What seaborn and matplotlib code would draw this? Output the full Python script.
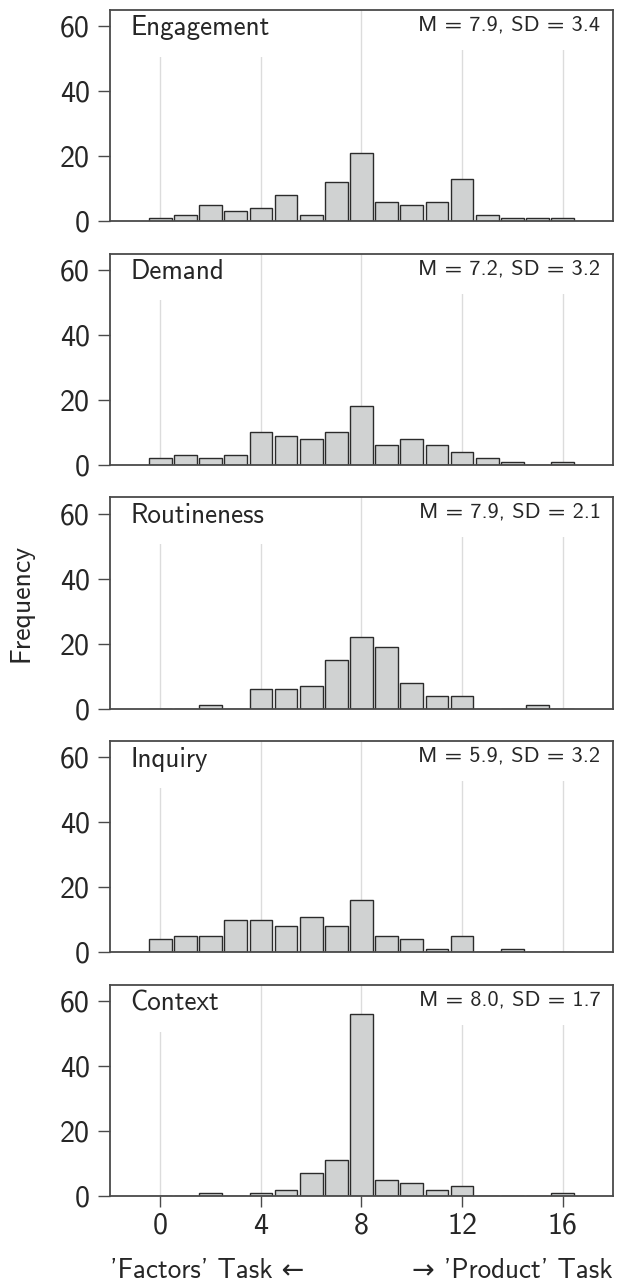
import numpy as np
import pandas as pd
import matplotlib
matplotlib.use('Agg')
import matplotlib.pyplot as plt
import seaborn as sns

# Scores (x) and the count of participants at each score, per dimension
scores = list(range(0, 17))
engagement = [1, 2, 5, 3, 4, 8, 2, 12, 21, 6, 5, 6, 13, 2, 1, 1, 1]
demand = [2, 3, 2, 3, 10, 9, 8, 10, 18, 6, 8, 6, 4, 2, 1, 0, 1]
routineness = [0, 0, 1, 0, 6, 6, 7, 15, 22, 19, 8, 4, 4, 0, 0, 1, 0]
inquiry = [4, 5, 5, 10, 10, 8, 11, 8, 16, 5, 4, 1, 5, 0, 1, 0, 0]
context = [0, 0, 1, 0, 1, 2, 7, 11, 56, 5, 4, 2, 3, 0, 0, 0, 1]

panel_names = ['Engagement', 'Demand', 'Routineness', 'Inquiry', 'Context']
panel_counts = [engagement, demand, routineness, inquiry, context]
panel_stats = ['M = 7.9, SD = 3.4', 'M = 7.2, SD = 3.2', 'M = 7.9, SD = 2.1',
               'M = 5.9, SD = 3.2', 'M = 8.0, SD = 1.7']

x_ticks = [0, 4, 8, 12, 16]
y_ticks = [0, 20, 40, 60]

sns.set_style('white')
plt.rcParams['font.family'] = ['cmss10', 'DejaVu Sans']
plt.rcParams['axes.unicode_minus'] = False

spine_col = '#4a4a4a'

fig, axes = plt.subplots(5, 1, figsize=(6.23, 12.83), dpi=100, sharex=True)
fig.subplots_adjust(left=0.1766, right=0.9839, top=0.9922, bottom=0.0678, hspace=0.155)

for i, ax in enumerate(axes):
    df = pd.DataFrame({'score': scores, 'n': panel_counts[i]})
    # light vertical guide lines behind the bars
    for xt in x_ticks:
        ax.axvline(xt, color='#dcdcdc', lw=1.0, zorder=0)
    sns.histplot(data=df, x='score', weights='n', discrete=True, shrink=0.9,
                 color='#d0d2d2', edgecolor='#2b2b2b', linewidth=1.0, alpha=1,
                 ax=ax, zorder=2)
    ax.set_xlim(-2, 18)
    ax.set_ylim(0, 65)
    ax.set_yticks(y_ticks)
    ax.set_xticks(x_ticks)
    ax.set_ylabel('')
    ax.set_xlabel('')
    for s in ax.spines.values():
        s.set_color(spine_col)
        s.set_linewidth(1.3)
        s.set_zorder(5)
    ax.tick_params(axis='y', length=8.6, width=1, color=spine_col, labelsize=21.5,
                   pad=6, left=True)
    if i < len(axes) - 1:
        ax.tick_params(axis='x', bottom=False, labelbottom=False)
    else:
        ax.tick_params(axis='x', length=8, width=1, color=spine_col, labelsize=21.5,
                       pad=4, bottom=True)
    ax.text(0.04, 0.975, panel_names[i], transform=ax.transAxes, ha='left', va='top',
            fontsize=19.5, zorder=4,
            bbox=dict(boxstyle='square,pad=0.6', fc='white', ec='none'))
    ax.text(0.975, 0.975, panel_stats[i], transform=ax.transAxes, ha='right', va='top',
            fontsize=16, zorder=4,
            bbox=dict(boxstyle='square,pad=0.7', fc='white', ec='none'))

fig.text(0.034, 0.53, 'Frequency', rotation=90, ha='center', va='center', fontsize=20)
fig.text(0.1766, 0.004, "'Factors' Task \u2190", ha='left', va='baseline', fontsize=19.5)
fig.text(0.9839, 0.004, "\u2192 'Product' Task", ha='right', va='baseline', fontsize=19.5)

fig.savefig('out.png', dpi=100)
